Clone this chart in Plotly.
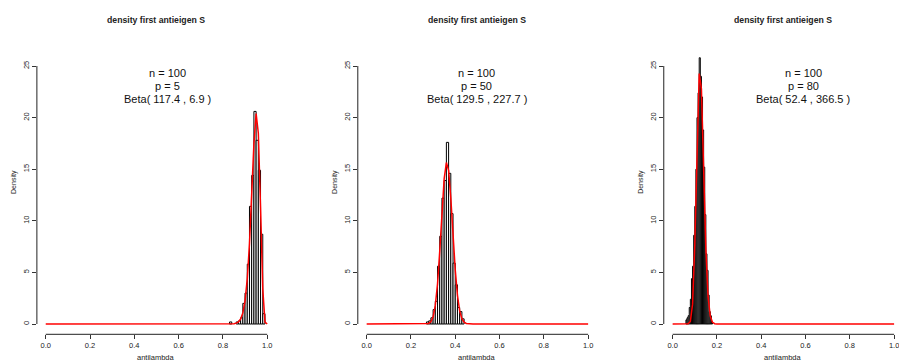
import numpy as np
import plotly.graph_objects as go
from math import lgamma

# ---------------- data ----------------
title_text = "density first antieigen S"
x_label = "antilambda"
y_label = "Density"
n_value = 100
p_values = [5, 50, 80]
beta_a = [117.4, 129.5, 52.4]
beta_b = [6.9, 227.7, 366.5]

# histogram bins (lower edges) and densities
p1_bin_lo = [0.83, 0.86, 0.87, 0.88, 0.89, 0.90, 0.91, 0.92, 0.93, 0.94, 0.95, 0.96, 0.97, 0.98]
p1_density = [0.2, 0.2, 0.3, 0.6, 2.0, 3.0, 5.8, 11.4, 14.4, 20.6, 17.8, 14.9, 8.7, 1.0]
p1_bin_width = 0.01

p2_bin_lo = [0.27, 0.28, 0.29, 0.30, 0.31, 0.32, 0.33, 0.34, 0.35, 0.36, 0.37, 0.38, 0.39, 0.40, 0.41, 0.42, 0.43]
p2_density = [0.2, 0.3, 0.6, 1.4, 2.2, 5.6, 8.5, 12.2, 13.9, 17.6, 14.6, 10.7, 5.9, 3.8, 1.6, 1.2, 0.5]
p2_bin_width = 0.01

p3_bin_lo = [0.060, 0.065, 0.070, 0.075, 0.080, 0.085, 0.090, 0.095, 0.100, 0.105, 0.110, 0.115,
             0.120, 0.125, 0.130, 0.135, 0.140, 0.145, 0.150, 0.155, 0.160, 0.165, 0.170, 0.175]
p3_density = [0.4, 0.6, 0.8, 1.6, 2.4, 4.4, 5.6, 8.6, 11.4, 15.0, 20.0, 22.4,
              25.8, 24.0, 22.0, 18.8, 15.2, 10.6, 6.8, 5.2, 2.8, 1.2, 0.8, 0.2]
p3_bin_width = 0.005

x_ticks = [0.0, 0.2, 0.4, 0.6, 0.8, 1.0]
x_tick_labels = ["0.0", "0.2", "0.4", "0.6", "0.8", "1.0"]
y_ticks = [0, 5, 10, 15, 20, 25]
y_tick_labels = ["0", "5", "10", "15", "20", "25"]

panels = [
    (p1_bin_lo, p1_density, p1_bin_width),
    (p2_bin_lo, p2_density, p2_bin_width),
    (p3_bin_lo, p3_density, p3_bin_width),
]
text_x = [0.55, 0.497, 0.59]

# ---------------- layout geometry (pixels) ----------------
W, H = 899, 361
axis_left_px = [37, 359, 666]
plot_w_px = 240
px_per_x = 222.2
plot_top_px = 40
plot_bottom_px = 334.3
y0_px = 324.0
px_per_y = 10.32

def fx(px):
    return px / W

def fy(py):
    return 1 - py / H

def beta_pdf(x, a, b):
    out = np.zeros_like(x)
    m = (x > 0) & (x < 1)
    lb = lgamma(a) + lgamma(b) - lgamma(a + b)
    out[m] = np.exp((a - 1) * np.log(x[m]) + (b - 1) * np.log(1 - x[m]) - lb)
    return out

FONT = "Liberation Sans, Arial, Helvetica, sans-serif"
fig = go.Figure()
shapes = []
annotations = []
layout = {}

y_rng = [(y0_px - plot_bottom_px) / px_per_y, (y0_px - plot_top_px) / px_per_y]

for i, (lo, dens, bw) in enumerate(panels):
    k = i + 1
    xa = "x" if k == 1 else f"x{k}"
    ya = "y" if k == 1 else f"y{k}"
    L = axis_left_px[i]
    R = min(L + plot_w_px, W)
    x_rng = [-0.04, -0.04 + (R - L) / px_per_x]

    centers = [v + bw / 2 for v in lo]
    fig.add_trace(go.Bar(
        x=centers, y=dens, width=[bw] * len(centers),
        marker=dict(color="white", line=dict(color="black", width=1)),
        xaxis=xa, yaxis=ya, showlegend=False, hoverinfo="skip"))

    grid = np.linspace(0, 1, 101)
    fig.add_trace(go.Scatter(
        x=grid, y=beta_pdf(grid, beta_a[i], beta_b[i]), mode="lines",
        line=dict(color="#FF0000", width=1.5),
        xaxis=xa, yaxis=ya, showlegend=False, hoverinfo="skip"))

    xname = "xaxis" if k == 1 else f"xaxis{k}"
    yname = "yaxis" if k == 1 else f"yaxis{k}"
    layout[xname] = dict(
        domain=[fx(L), fx(R)], range=x_rng, anchor=ya,
        showgrid=False, zeroline=False, showline=False,
        ticks="outside", ticklen=4, tickwidth=1, tickcolor="#333",
        tickvals=x_ticks, ticktext=x_tick_labels, ticklabeloverflow="allow",
        tickfont=dict(family=FONT, size=7.5, color="#222"))
    layout[yname] = dict(
        domain=[fy(plot_bottom_px), fy(plot_top_px)], range=y_rng, anchor=xa,
        showgrid=False, zeroline=False, showline=False,
        ticks="outside", ticklen=4, tickwidth=1, tickcolor="#333",
        tickvals=y_ticks, ticktext=y_tick_labels, tickangle=-90,
        ticklabeloverflow="allow",
        tickfont=dict(family=FONT, size=7.5, color="#222"))

    # R-style axis lines spanning only the tick range
    shapes.append(dict(type="line", xref=xa, yref="paper",
                       x0=x_ticks[0], x1=x_ticks[-1],
                       y0=fy(plot_bottom_px), y1=fy(plot_bottom_px),
                       line=dict(color="#222", width=1)))
    shapes.append(dict(type="line", xref="paper", yref=ya,
                       x0=fx(L), x1=fx(L), y0=y_ticks[0], y1=y_ticks[-1],
                       line=dict(color="#222", width=1)))

    cx = fx((L + L + plot_w_px) / 2)
    annotations.append(dict(text=f"<b>{title_text}</b>", x=cx, y=fy(20),
                            xref="paper", yref="paper", showarrow=False,
                            xanchor="center", yanchor="middle",
                            font=dict(family=FONT, size=8.7, color="#222")))
    annotations.append(dict(text=x_label, x=cx, y=fy(357), xref="paper", yref="paper",
                            showarrow=False, xanchor="center", yanchor="middle",
                            font=dict(family=FONT, size=7.5, color="#222")))
    annotations.append(dict(text=y_label, x=fx(L - 23), y=fy(182), xref="paper", yref="paper",
                            textangle=-90, showarrow=False, xanchor="center", yanchor="middle",
                            font=dict(family=FONT, size=7, color="#222")))

    lines = [f"n = {n_value}", f"p = {p_values[i]}", f"Beta( {beta_a[i]} , {beta_b[i]} )"]
    for j, t in enumerate(lines):
        annotations.append(dict(text=t, x=text_x[i], y=24.35 - 1.29 * j, xref=xa, yref=ya,
                                showarrow=False, xanchor="center", yanchor="middle",
                                font=dict(family=FONT, size=11, color="#111")))

fig.update_layout(
    width=W, height=H, margin=dict(l=0, r=0, t=0, b=0),
    paper_bgcolor="white", plot_bgcolor="white",
    shapes=shapes, annotations=annotations, barmode="overlay",
    **layout)

fig.write_html("out.html", config={"displayModeBar": False})
